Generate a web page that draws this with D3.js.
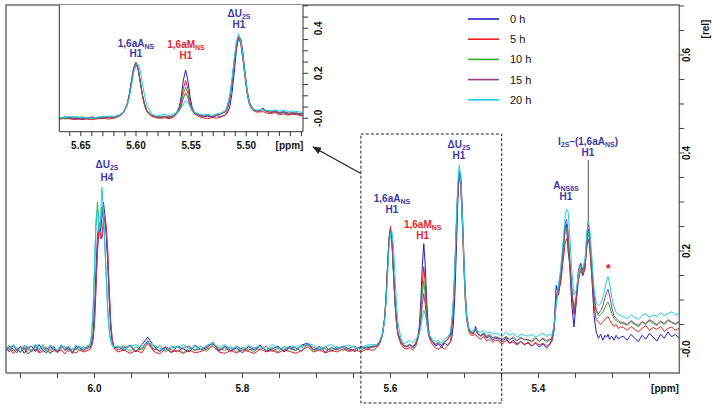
<!DOCTYPE html>
<html><head><meta charset="utf-8">
<script src="https://cdn.jsdelivr.net/npm/d3@7"></script>
<style>body{margin:0;background:#fff}svg{display:block}text{font-family:"Liberation Sans",Arial,sans-serif}</style>
</head><body><svg id="c" width="714" height="409"></svg>
<script>
// chemical shift grid (ppm), shared by all spectra
const ppm = [
6.120,6.115,6.110,6.105,6.100,6.095,6.090,6.085,6.080,6.075,6.070,6.065,6.060,6.055,6.050,6.045,6.040,6.035,6.030,6.025,6.020,6.015,6.010,
6.006,6.004,6.002,6.000,5.998,5.996,5.994,5.992,5.990,5.988,5.986,5.984,5.982,5.980,5.978,5.976,5.974,5.972,
5.968,5.960,5.952,5.944,5.936,5.928,5.920,5.912,5.904,5.896,5.888,5.880,5.872,5.864,5.856,5.848,5.840,5.832,5.824,5.816,5.808,5.800,5.792,5.784,5.776,5.768,5.760,5.752,5.744,5.736,5.728,5.720,5.712,5.704,5.696,5.688,5.680,5.672,5.664,5.656,5.648,5.640,5.632,5.624,
5.619,5.615,5.611,5.608,5.606,5.604,5.602,5.600,5.598,5.596,5.594,5.592,5.590,5.586,5.582,5.578,5.574,5.570,5.566,5.563,5.561,5.559,5.557,5.555,5.553,5.551,5.549,5.547,5.543,5.539,5.535,5.531,5.527,5.523,5.519,5.517,5.515,5.513,5.511,5.509,5.507,5.505,5.503,5.501,5.499,5.497,5.494,5.491,5.488,5.485,5.482,5.478,5.474,5.470,5.466,5.462,5.458,
5.454,5.449,5.444,5.439,5.434,5.429,5.424,5.419,5.414,5.409,5.404,5.399,5.394,5.389,5.385,
5.382,5.379,5.376,5.373,5.370,5.367,5.364,5.362,5.360,5.358,5.355,5.352,5.349,5.346,5.343,5.340,5.337,5.335,5.333,5.331,5.328,5.325,5.322,5.319,5.316,5.313,5.310,5.308,5.306,5.304,5.301,5.298,5.295,5.292,5.289,
5.285,5.280,5.275,5.270,5.265,5.260,5.255,5.250,5.245,5.240,5.235,5.230,5.225,5.220,5.215,5.210];

// intensities in thousandths of [rel]
const int0h = [
3,-6,8,-3,5,-9,2,6,-5,9,-2,-8,5,0,-6,8,-3,3,-9,5,2,-3,6,
3,10,30,80,160,230,255,240,265,300,275,230,170,95,40,15,6,2,
5,-3,8,-6,9,24,6,-5,3,-8,5,0,-6,8,-2,3,14,-5,6,-3,2,-8,5,-2,8,-5,0,6,-6,3,-3,8,12,-2,5,-6,3,-2,6,0,-5,5,2,6,
6,14,30,62,105,165,220,242,218,160,100,58,32,14,7,4,8,2,10,26,47,96,170,215,170,96,47,26,14,6,10,3,12,8,14,25,50,110,200,300,362,355,290,200,120,70,42,35,30,46,32,26,30,22,26,18,22,
20,14,22,12,18,10,16,8,14,6,12,4,10,2,8,
20,45,130,110,140,190,245,255,200,175,90,45,95,160,175,150,165,210,245,225,150,70,35,22,30,18,28,24,30,20,26,18,28,20,24,
26,18,30,22,15,28,20,32,24,16,30,22,35,25,30,22];
const int5h = [
-5,2,-9,-2,-6,3,-10,-3,0,-8,-5,2,-9,-3,-6,-2,-10,0,-5,-8,-2,-6,-3,
-1,5,18,50,120,195,245,235,225,250,270,250,200,120,55,20,5,-2,
-6,-2,-9,-3,-8,12,-5,-10,0,-6,-3,-9,-2,-8,-5,0,6,-6,-9,-3,-8,-2,-5,-9,0,-6,-3,-8,-2,-5,-9,-3,5,-6,-2,-8,-3,-6,0,-5,-2,-6,0,-3,
2,9,26,58,102,165,228,250,222,158,95,52,28,10,2,0,3,-2,5,21,37,75,133,168,133,75,37,20,8,2,-1,4,0,6,15,40,80,150,245,320,360,330,260,175,100,58,35,28,28,30,24,20,26,16,20,14,18,
16,10,18,12,14,8,15,10,12,6,14,8,12,6,10,
15,35,95,120,135,175,215,225,215,180,115,70,95,140,160,150,170,200,225,210,150,90,60,55,50,56,60,64,66,60,52,46,50,42,45,
44,38,46,40,35,42,48,38,44,40,46,36,42,45,38,42];
const int10h = [
0,8,-5,3,-8,6,0,-6,5,-3,9,-2,-9,3,-5,6,-2,5,-6,2,-3,5,0,
8,25,70,160,250,300,260,250,290,270,210,140,75,35,15,7,3,2,
2,6,-5,5,-2,16,-3,8,-6,2,5,-8,3,-2,6,-5,10,2,-3,5,-6,3,0,-5,6,-2,3,-6,5,0,-3,6,9,-5,3,0,-2,5,-3,2,6,-3,5,3,
6,13,30,64,108,170,225,245,215,155,98,58,32,14,6,6,10,5,12,24,37,66,111,139,111,66,37,24,16,10,14,8,15,18,28,55,95,165,255,330,365,335,265,180,105,60,38,32,34,38,30,28,33,25,28,22,24,
24,18,26,20,22,16,24,18,20,14,22,16,20,14,18,
22,45,100,125,150,195,240,245,225,185,125,80,110,150,165,155,175,215,240,225,165,105,75,68,70,75,85,92,96,88,72,62,58,55,52,
52,48,56,50,45,55,50,58,52,48,55,50,58,54,50,55];
const int15h = [
-3,5,0,-8,6,-2,5,-5,8,-6,0,3,-3,6,-8,2,5,-5,0,-2,6,-3,2,
3,8,22,60,130,210,250,225,235,262,262,235,185,110,50,18,6,2,
-2,3,6,-5,2,17,0,-3,5,-2,-6,3,6,-3,0,5,11,-2,3,-6,5,0,-3,3,-2,6,-5,2,-3,5,2,-5,10,3,-2,5,-5,2,3,-3,0,5,-2,5,
5,12,28,60,104,165,222,244,218,160,100,60,34,15,6,5,8,6,11,21,31,55,91,113,91,55,31,21,15,9,12,7,14,20,30,55,92,160,250,325,362,338,268,182,108,62,40,33,33,40,31,27,32,26,30,23,25,
22,20,24,18,25,17,22,20,18,16,24,15,22,17,20,
20,42,105,128,155,205,255,265,240,190,120,75,105,160,175,160,180,225,258,240,170,110,80,72,78,88,105,115,122,110,85,68,62,58,55,
54,50,58,52,48,56,52,60,55,50,57,52,60,55,52,56];
const int20h = [
6,-2,9,2,-5,8,3,-3,10,0,5,-6,8,2,-3,9,0,6,-2,8,3,0,5,
10,30,80,170,265,285,240,260,330,285,215,150,80,38,16,8,4,5,
6,0,5,9,3,14,8,2,-3,6,3,9,0,5,-2,8,12,3,9,0,5,-3,8,2,5,-2,9,3,0,6,5,2,11,8,0,5,9,2,5,8,3,0,8,9,
9,15,30,55,92,145,205,235,240,210,150,95,55,22,10,14,18,12,20,25,32,45,65,79,70,52,36,27,20,15,18,12,20,24,34,60,100,170,260,340,376,345,275,190,112,65,42,36,38,40,36,34,38,32,35,30,32,
30,26,34,28,32,24,30,28,26,30,24,28,32,26,30,
28,48,90,130,165,215,270,285,280,240,160,110,120,155,170,165,185,230,262,250,190,125,95,88,92,105,125,140,148,135,105,85,75,70,68,
66,62,70,65,60,68,72,64,70,66,74,68,72,76,70,72];

const seriesNames = ["0 h","5 h","10 h","15 h","20 h"];
const seriesColors = ["#1e1ecc","#ee1c1c","#2fae2f","#9c3f7c","#1ccdf2"];
const mainXMajor = [6.0,5.8,5.6,5.4];
const mainYMajor = [0.0,0.2,0.4,0.6];
const mainYLabels = ["-0.0","0.2","0.4","0.6"];
const insetXMajor = [5.65,5.60,5.55,5.50];
const insetYMajor = [0.0,0.2,0.4];
const insetYLabels = ["-0.0","0.2","0.4"];

const svg = d3.select("#c");
const M = {l:6, t:5, r:679.3, b:373};
const x = d3.scaleLinear().domain([6.1196, 5.2097]).range([M.l, M.r]);
const y = d3.scaleLinear().domain([-0.049, 0.702]).range([M.b, M.t]);
const I = {l:59.3, t:5, r:303, b:131.7};
const xi = d3.scaleLinear().domain([5.6695, 5.4486]).range([I.l, I.r]);
const yi = d3.scaleLinear().domain([-0.0595, 0.5036]).range([I.b, I.t]);

const raw = [int0h,int5h,int10h,int15h,int20h];
raw.forEach((a,i)=>{ if(a.length!==ppm.length) console.error("length mismatch", i, a.length, ppm.length); });
const series = raw.map((vals,i)=>({name:seriesNames[i], color:seriesColors[i],
  pts: ppm.map((p,j)=>({p:p, v:vals[j]/1000}))}));

const defs = svg.append("defs");
defs.append("clipPath").attr("id","cm").append("rect").attr("x",M.l).attr("y",M.t).attr("width",M.r-M.l).attr("height",M.b-M.t);
defs.append("clipPath").attr("id","ci").append("rect").attr("x",I.l).attr("y",I.t).attr("width",I.r-I.l).attr("height",I.b-I.t);
defs.append("marker").attr("id","ah").attr("viewBox","0 0 10 10").attr("refX",9).attr("refY",5)
  .attr("markerWidth",9).attr("markerHeight",9).attr("markerUnits","userSpaceOnUse").attr("orient","auto")
  .append("path").attr("d","M0,1 L10,5 L0,9 Z").attr("fill","#222");

// main spectra
const lineMain = d3.line().x(d=>x(d.p)).y(d=>y(d.v));
const gm = svg.append("g").attr("clip-path","url(#cm)");
series.forEach(s=>gm.append("path").attr("d",lineMain(s.pts)).attr("fill","none").attr("stroke",s.color).attr("stroke-width",1).attr("stroke-linejoin","round"));

// main frame & axes
const frameCol = "#6e6e6e";
svg.append("path").attr("d",`M${M.l},${M.b}V${M.t}H${M.r}V${M.b}H${M.l}`).attr("fill","none").attr("stroke",frameCol).attr("stroke-width",1.5);
const xMinor = d3.range(0,18).map(i=>+(6.10 - i*0.05).toFixed(2));
const gx = svg.append("g");
xMinor.forEach(v=>gx.append("line").attr("x1",x(v)).attr("x2",x(v)).attr("y1",M.b).attr("y2",M.b+5).attr("stroke","#444").attr("stroke-width",1));
mainXMajor.forEach(v=>gx.append("text").attr("x",x(v)).attr("y",392).attr("text-anchor","middle").attr("font-size",10).attr("font-weight","bold").attr("fill","#111").text(v.toFixed(1)));
gx.append("text").attr("x",665).attr("y",392).attr("text-anchor","middle").attr("font-size",10).attr("font-weight","bold").attr("fill","#111").text("[ppm]");

const yMinor = d3.range(0,15).map(i=>+(i*0.05).toFixed(2));
const gy = svg.append("g");
yMinor.forEach(v=>gy.append("line").attr("x1",M.r).attr("x2",M.r+5).attr("y1",y(v)).attr("y2",y(v)).attr("stroke","#444").attr("stroke-width",1));
mainYMajor.forEach((v,i)=>gy.append("text").attr("transform",`translate(686.5,${y(v)}) rotate(-90)`).attr("text-anchor","middle").attr("dominant-baseline","central").attr("font-size",10).attr("font-weight","bold").attr("fill","#111").text(mainYLabels[i]));
gy.append("text").attr("transform",`translate(705,29) rotate(-90)`).attr("text-anchor","middle").attr("dominant-baseline","central").attr("font-size",10).attr("font-weight","bold").attr("fill","#111").text("[rel]");

// dashed zoom box and arrow
svg.append("rect").attr("x",x(5.64)).attr("y",134).attr("width",x(5.4497)-x(5.64)).attr("height",269)
  .attr("fill","none").attr("stroke","#222").attr("stroke-width",1).attr("stroke-dasharray","3,2");
svg.append("line").attr("x1",x(5.64)).attr("y1",173.5).attr("x2",313).attr("y2",147).attr("stroke","#222").attr("stroke-width",1.2).attr("marker-end","url(#ah)");

// inset
svg.append("rect").attr("x",I.l).attr("y",I.t).attr("width",I.r-I.l).attr("height",I.b-I.t).attr("fill","#fff");
const lineIn = d3.line().x(d=>xi(d.p)).y(d=>yi(d.v));
const gi = svg.append("g").attr("clip-path","url(#ci)");
series.forEach(s=>gi.append("path").attr("d",lineIn(s.pts.filter(d=>d.p<5.675 && d.p>5.44))).attr("fill","none").attr("stroke",s.color).attr("stroke-width",1).attr("stroke-linejoin","round"));
svg.append("path").attr("d",`M${I.l},${I.t}V${I.b}H${I.r}V${I.t}`).attr("fill","none").attr("stroke","#333").attr("stroke-width",1);
const xiMinor = d3.range(0,22).map(i=>+(5.66 - i*0.01).toFixed(2));
xiMinor.forEach(v=>svg.append("line").attr("x1",xi(v)).attr("x2",xi(v)).attr("y1",I.b).attr("y2",I.b+4.5).attr("stroke","#333").attr("stroke-width",1));
insetXMajor.forEach(v=>svg.append("text").attr("x",xi(v)).attr("y",149).attr("text-anchor","middle").attr("font-size",10).attr("font-weight","bold").attr("fill","#111").text(v.toFixed(2)));
svg.append("text").attr("x",289.5).attr("y",149).attr("text-anchor","middle").attr("font-size",10).attr("font-weight","bold").attr("fill","#111").text("[ppm]");
const yiMinor = d3.range(0,11).map(i=>+(i*0.05).toFixed(2));
yiMinor.forEach(v=>svg.append("line").attr("x1",I.r).attr("x2",I.r+5).attr("y1",yi(v)).attr("y2",yi(v)).attr("stroke","#333").attr("stroke-width",1));
insetYMajor.forEach((v,i)=>svg.append("text").attr("transform",`translate(318.3,${yi(v)}) rotate(-90)`).attr("text-anchor","middle").attr("dominant-baseline","central").attr("font-size",10).attr("font-weight","bold").attr("fill","#111").text(insetYLabels[i]));

// peak annotations
const labBlue = "#3a3aa6", labRed = "#e8232a";
function addLabel(cx, yb1, yb2, parts, second, color){
  const t = svg.append("text").attr("x",cx).attr("y",yb1).attr("text-anchor","middle").attr("fill",color).attr("font-weight","bold").attr("font-size",10);
  let sub = false;
  parts.forEach(([s,isSub])=>{
    const ts = t.append("tspan").text(s);
    if(isSub && !sub){ ts.attr("font-size",7).attr("dy",2); sub=true; }
    else if(isSub){ ts.attr("font-size",7); }
    else if(sub){ ts.attr("dy",-2); sub=false; }
  });
  svg.append("text").attr("x",cx).attr("y",yb2).attr("text-anchor","middle").attr("fill",color).attr("font-weight","bold").attr("font-size",10).text(second);
}
addLabel(107, 168, 180.5, [["ΔU",0],["2S",1]], "H4", labBlue);
addLabel(392, 201.5, 213, [["1,6aA",0],["NS",1]], "H1", labBlue);
addLabel(422.7, 228, 239, [["1,6aM",0],["NS",1]], "H1", labRed);
addLabel(459, 148, 158.5, [["ΔU",0],["2S",1]], "H1", labBlue);
addLabel(566, 188.5, 200, [["A",0],["NS6S",1]], "H1", labBlue);
addLabel(588, 145, 156, [["I",0],["2S",1],["–(1,6aA",0],["NS",1],[")",0]], "H1", labBlue);
svg.append("line").attr("x1",x(5.3327)).attr("x2",x(5.3327)).attr("y1",160).attr("y2",221).attr("stroke","#555").attr("stroke-width",1);
svg.append("text").attr("x",608.3).attr("y",273).attr("text-anchor","middle").attr("fill",labRed).attr("font-weight","bold").attr("font-size",13).text("*");
// inset annotations
addLabel(136, 47, 57, [["1,6aA",0],["NS",1]], "H1", labBlue);
addLabel(186, 48, 58.5, [["1,6aM",0],["NS",1]], "H1", labRed);
addLabel(239, 16.5, 28, [["ΔU",0],["2S",1]], "H1", labBlue);

// legend
const lg = svg.append("g");
series.forEach((s,i)=>{
  const yy = 19 + i*20.2;
  lg.append("line").attr("x1",468).attr("x2",499).attr("y1",yy).attr("y2",yy).attr("stroke",s.color).attr("stroke-width",1.6);
  lg.append("text").attr("x",510).attr("y",yy+4).attr("font-size",11).attr("fill","#111").text(s.name);
});
</script></body></html>
